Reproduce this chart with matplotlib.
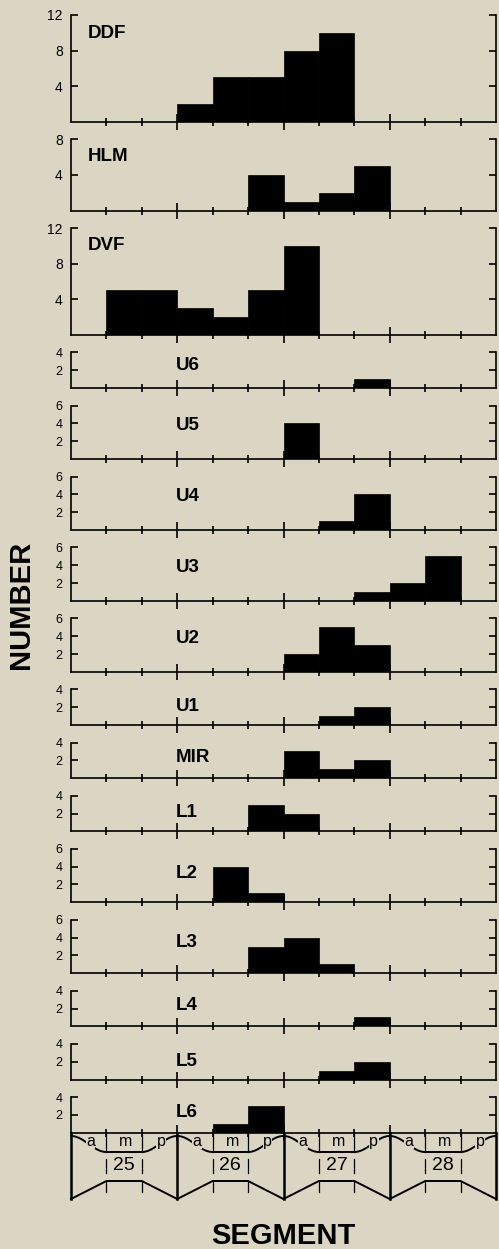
import matplotlib
matplotlib.use('Agg')
import matplotlib.pyplot as plt
import numpy as np

# Histogram data
## Bins run through segments 25-28, each segment split into a / m / p thirds
segments = ['25', '26', '27', '28']
thirds = ['a', 'm', 'p']

panel_names = ['DDF', 'HLM', 'DVF', 'U6', 'U5', 'U4', 'U3', 'U2',
               'U1', 'MIR', 'L1', 'L2', 'L3', 'L4', 'L5', 'L6']
panel_ymax = [12, 8, 12, 4, 6, 6, 6, 6, 4, 4, 4, 6, 6, 4, 4, 4]

ddf = [0, 0, 0, 2, 5, 5, 8, 10, 0, 0, 0, 0]
hlm = [0, 0, 0, 0, 0, 4, 1, 2, 5, 0, 0, 0]
dvf = [0, 5, 5, 3, 2, 5, 10, 0, 0, 0, 0, 0]
u6 = [0, 0, 0, 0, 0, 0, 0, 0, 1, 0, 0, 0]
u5 = [0, 0, 0, 0, 0, 0, 4, 0, 0, 0, 0, 0]
u4 = [0, 0, 0, 0, 0, 0, 0, 1, 4, 0, 0, 0]
u3 = [0, 0, 0, 0, 0, 0, 0, 0, 1, 2, 5, 0]
u2 = [0, 0, 0, 0, 0, 0, 2, 5, 3, 0, 0, 0]
u1 = [0, 0, 0, 0, 0, 0, 0, 1, 2, 0, 0, 0]
mir = [0, 0, 0, 0, 0, 0, 3, 1, 2, 0, 0, 0]
l1 = [0, 0, 0, 0, 0, 3, 2, 0, 0, 0, 0, 0]
l2 = [0, 0, 0, 0, 4, 1, 0, 0, 0, 0, 0, 0]
l3 = [0, 0, 0, 0, 0, 3, 4, 1, 0, 0, 0, 0]
l4 = [0, 0, 0, 0, 0, 0, 0, 0, 1, 0, 0, 0]
l5 = [0, 0, 0, 0, 0, 0, 0, 1, 2, 0, 0, 0]
l6 = [0, 0, 0, 0, 1, 3, 0, 0, 0, 0, 0, 0]

panel_counts = [ddf, hlm, dvf, u6, u5, u4, u3, u2,
                u1, mir, l1, l2, l3, l4, l5, l6]

# Layout (pixel units of the 499x1249 canvas)
W, H = 499, 1249
AX_LEFT, AX_RIGHT = 71, 496
TOP0 = 15
UNIT_PX = 8.9
GAP_PX = 17.55
label_drop = [18, 17, 17, 13, 20, 20, 20, 20, 17, 15, 16.5, 25, 22.5, 14.5, 17.4, 15.7]
BG = '#dbd5c3'
LW = 1.2

plt.rcParams['font.family'] = ['Liberation Sans', 'DejaVu Sans']

fig = plt.figure(figsize=(W / 100, H / 100), dpi=100, facecolor=BG)

n_bins = len(segments) * len(thirds)
bin_left = np.arange(n_bins)
major_x = [3, 6, 9]
minor_x = [x for x in range(1, n_bins) if x not in major_x]

# Stacked histogram panels
## Panel height follows its y-range so every panel shares the same count scale
top = TOP0
for name, ymax, counts, drop in zip(panel_names, panel_ymax, panel_counts, label_drop):
    h = ymax * UNIT_PX
    ax = fig.add_axes([AX_LEFT / W, 1 - (top + h) / H, (AX_RIGHT - AX_LEFT) / W, h / H])
    ax.set_facecolor('none')
    ax.bar(bin_left, counts, width=1.0, align='edge', color='black', edgecolor='black', linewidth=0.5)
    ax.set_xlim(0, n_bins)
    ax.set_ylim(0, ymax)

    ax.spines['top'].set_visible(False)
    for sp in ['left', 'right', 'bottom']:
        ax.spines[sp].set_linewidth(LW)

    step = 4 if ymax >= 8 else 2
    ax.set_yticks(np.arange(step, ymax + 1, step))
    ax.tick_params(axis='y', direction='in', length=5, width=LW, left=True, right=True,
                   labelleft=True, labelsize=10 if ymax >= 8 else 9, pad=6)

    ax.set_xticks(major_x)
    ax.set_xticks(minor_x, minor=True)
    ax.tick_params(axis='x', which='major', direction='inout', length=11, width=LW, labelbottom=False)
    ax.tick_params(axis='x', which='minor', direction='inout', length=6, width=LW)

    ## Big panels carry the label at far left, small ones start at segment 26
    lx = 0.48 if ymax >= 8 else 2.97
    ax.annotate(name, xy=(lx, 1), xycoords=('data', 'axes fraction'),
                xytext=(0, -drop), textcoords='offset pixels',
                ha='left', va='center', fontsize=13.5, fontweight='bold')

    top += h + GAP_PX

# Segment schematic below the last panel
## y runs in canvas pixels (inverted) so the outline is easy to place
Y_AX, Y_TOP, Y_MTOP, Y_NUM, Y_MBOT, Y_BOT = 1133, 1136, 1152, 1166, 1181, 1199
dax = fig.add_axes([AX_LEFT / W, 1 - 1203 / H, (AX_RIGHT - AX_LEFT) / W, (1203 - 1131) / H])
dax.set_xlim(0, n_bins)
dax.set_ylim(1203, 1131)
dax.axis('off')
dax.patch.set_visible(False)

t = np.linspace(0, 1, 40)
ease = (1 - np.cos(np.pi * t)) / 2
for s, seg in enumerate(segments):
    x0 = 3 * s
    ## upper outline: dip into the m-third then rise back
    xs = np.concatenate([x0 + t, [x0 + 2], x0 + 2 + t])
    ys = np.concatenate([Y_TOP + (Y_MTOP - Y_TOP) * ease, [Y_MTOP], Y_MTOP - (Y_MTOP - Y_TOP) * ease])
    dax.plot(xs, ys, color='black', lw=1.4, clip_on=False)
    ## lower outline: straight slopes up to the m-third
    dax.plot([x0, x0 + 1, x0 + 2, x0 + 3], [Y_BOT, Y_MBOT, Y_MBOT, Y_BOT],
             color='black', lw=1.4, clip_on=False)
    ## third boundaries
    for xb in (x0 + 1, x0 + 2):
        dax.plot([xb, xb], [Y_AX, Y_MTOP], color='black', lw=0.9, clip_on=False)
        dax.plot([xb, xb], [Y_NUM - 7, Y_NUM + 7], color='black', lw=0.9, clip_on=False)
        dax.plot([xb, xb], [Y_MBOT, Y_MBOT + 11], color='black', lw=0.9, clip_on=False)
    for j, lab in enumerate(thirds):
        dax.text(x0 + j + 0.55, 1146, lab, ha='center', va='baseline', fontsize=11.5,
                 bbox=dict(fc=BG, ec='none', pad=0.4))
    dax.text(x0 + 1.5, Y_NUM, seg, ha='center', va='center', fontsize=14)

for xb in range(0, n_bins + 1, 3):
    dax.plot([xb, xb], [Y_AX, Y_BOT], color='black', lw=1.8, clip_on=False)

# Axis titles
fig.text(21 / W, 1 - 605 / H, 'NUMBER', rotation=90, ha='center', va='center',
         fontsize=21, fontweight='bold')
fig.text(283 / W, 1 - 1236 / H, 'SEGMENT', ha='center', va='center',
         fontsize=21, fontweight='bold')

fig.savefig('out.png', dpi=100, facecolor=BG)
